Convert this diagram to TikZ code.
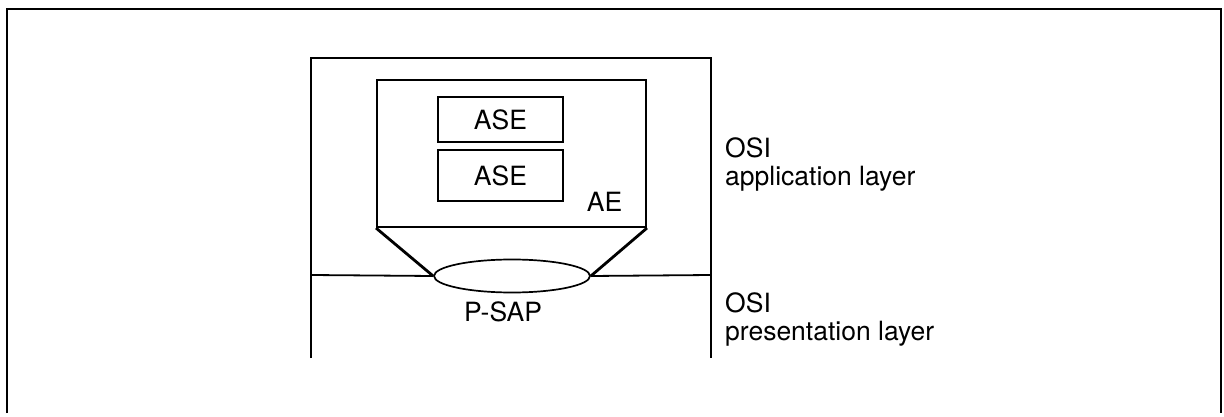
\documentclass[tikz,border=0pt]{standalone}
\usepackage{fontspec}
\setmainfont{TeX Gyre Heros}
\usetikzlibrary{shapes.geometric}

\begin{document}
\begin{tikzpicture}[
  x=1pt, y=-1pt,
  every node/.style={font=\fontsize{26.5}{28}\selectfont},
  box/.style={draw, line width=2pt, inner sep=0pt},
  sap/.style={draw, ellipse, line width=1.7pt, minimum width=156pt, minimum height=33pt, inner sep=0pt},
  layer/.style={line width=1.8pt},
  leg/.style={line width=2.8pt},
  lbl/.style={inner sep=0pt, align=left, anchor=north west}
]
\useasboundingbox (0,0) rectangle (1224,417);
% outer frame, open at the bottom
\draw[line width=1.8pt] (7,413) -- (7,9) -- (1221,9) -- (1221,413);
% application entity
\node[box, minimum width=269pt, minimum height=147pt] (ae) at (511.5,153.5) {};
\node (aelbl) at (604.5,202) {AE};
\node[box, minimum width=125pt, minimum height=45pt] (ase1) at (500.5,119.5) {ASE};
\node[box, minimum width=125pt, minimum height=51pt] (ase2) at (500.5,175.5) {ASE};
% service access point
\node[sap] (sap) at (512,276) {};
\node (saplbl) at (503,312) {P-SAP};
\draw[leg] (ae.south west) -- (sap.west);
\draw[leg] (ae.south east) -- (sap.east);
% layer boundaries
\coordinate (lyl) at (311,275);
\coordinate (lyr) at (711,275);
\draw[layer] (311,358) -- (311,58) -- (711,58) -- (711,358);
\draw[layer] (lyl) -- (sap.west);
\draw[layer] (sap.east) -- (lyr);
\node[lbl] (app) at (725,138) {OSI\\application layer};
\node[lbl] (pres) at (725,293) {OSI\\presentation layer};
\end{tikzpicture}
\end{document}
